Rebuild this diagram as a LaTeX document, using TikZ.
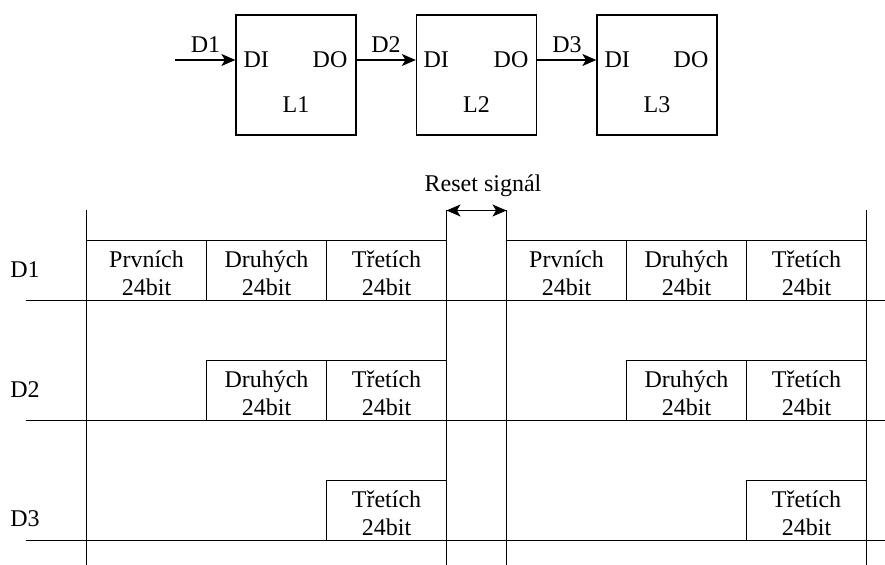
\documentclass[tikz,border=0pt]{standalone}
\usepackage{fontspec}
\setmainfont{Liberation Serif}
\newfontfamily\timesfont{Liberation Serif}
\usetikzlibrary{arrows.meta}
\begin{document}
\begin{tikzpicture}[x=0.5pt,y=-0.5pt,
  font=\timesfont\fontsize{12}{14}\selectfont,
  line width=0.65pt,
  head/.tip={Stealth[length=7pt,width=6pt,inset=1.8pt]},
  tip/.style={-head},
  bothtips/.style={head-head},
  block/.style={draw, minimum width=60pt, minimum height=60pt, inner sep=0pt},
  cell/.style={draw, minimum width=60pt, minimum height=30pt, inner sep=0pt},
  celltext/.style={align=center, inner sep=0pt},
  txt/.style={inner sep=0pt, anchor=base},
  txtw/.style={inner sep=0pt, anchor=base west},
  txte/.style={inner sep=0pt, anchor=base east},
]
\useasboundingbox (0,0) rectangle (885,565);

% --- register chain L1 -> L2 -> L3 ---
\node[block] (L1) at (296,75) {};
\node[block] (L2) at (476.5,75) {};
\node[block] (L3) at (657,75) {};

\node[txtw] (di1) at (243,68) {DI};
\node[txte] (do1) at (348,68) {DO};
\node[txt]  (n1)  at (296,113) {L1};
\node[txtw] (di2) at (423,68) {DI};
\node[txte] (do2) at (529,68) {DO};
\node[txt]  (n2)  at (476.5,113) {L2};
\node[txtw] (di3) at (604,68) {DI};
\node[txte] (do3) at (709,68) {DO};
\node[txt]  (n3)  at (657,113) {L3};

\coordinate (in) at (175,60);
\draw[tip] (in) -- (in -| L1.west);
\draw[tip] (in -| L1.east) -- (in -| L2.west);
\draw[tip] (in -| L2.east) -- (in -| L3.west);

\node[txt] (d1a) at (205.5,53) {D1};
\node[txt] (d2a) at (386,53) {D2};
\node[txt] (d3a) at (567,53) {D3};

% --- timing diagram ---
% frame boundaries
\coordinate (v1t) at (86.5,210.5);  \coordinate (v1b) at (86.5,565);
\coordinate (v2t) at (446.5,210.5); \coordinate (v2b) at (446.5,565);
\coordinate (v3t) at (506.5,210.5); \coordinate (v3b) at (506.5,565);
\coordinate (v4t) at (866.5,210.5); \coordinate (v4b) at (866.5,565);
\draw (v1t) -- (v1b);
\draw (v2t) -- (v2b);
\draw (v3t) -- (v3b);
\draw (v4t) -- (v4b);

\draw[bothtips] (v2t) -- (v3t);
\node[txt] (rst) at (483,192) {Reset signál};

% signal base lines
\coordinate (b1l) at (26,300.5); \coordinate (b1r) at (885,300.5);
\coordinate (b2l) at (26,420.5); \coordinate (b2r) at (885,420.5);
\coordinate (b3l) at (26,540.5); \coordinate (b3r) at (885,540.5);
\draw (b1l) -- (b1r);
\draw (b2l) -- (b2r);
\draw (b3l) -- (b3r);

\node[txt] (s1) at (25,278) {D1};
\node[txt] (s2) at (25,398) {D2};
\node[txt] (s3) at (25,527) {D3};

% D1 row
\node[cell] (a1) at (146.5,270.5) {};
\node[cell] (a2) at (266.5,270.5) {};
\node[cell] (a3) at (386.5,270.5) {};
\node[cell] (a4) at (566.5,270.5) {};
\node[cell] (a5) at (686.5,270.5) {};
\node[cell] (a6) at (806.5,270.5) {};
\node[celltext] (ta1) at ([yshift=-1.3pt]a1.center) {Prvních\\24bit};
\node[celltext] (ta2) at ([yshift=-1.3pt]a2.center) {Druhých\\24bit};
\node[celltext] (ta3) at ([yshift=-1.3pt]a3.center) {Třetích\\24bit};
\node[celltext] (ta4) at ([yshift=-1.3pt]a4.center) {Prvních\\24bit};
\node[celltext] (ta5) at ([yshift=-1.3pt]a5.center) {Druhých\\24bit};
\node[celltext] (ta6) at ([yshift=-1.3pt]a6.center) {Třetích\\24bit};

% D2 row
\node[cell] (b2) at (266.5,390.5) {};
\node[cell] (b3) at (386.5,390.5) {};
\node[cell] (b5) at (686.5,390.5) {};
\node[cell] (b6) at (806.5,390.5) {};
\node[celltext] (tb2) at ([yshift=-1.3pt]b2.center) {Druhých\\24bit};
\node[celltext] (tb3) at ([yshift=-1.3pt]b3.center) {Třetích\\24bit};
\node[celltext] (tb5) at ([yshift=-1.3pt]b5.center) {Druhých\\24bit};
\node[celltext] (tb6) at ([yshift=-1.3pt]b6.center) {Třetích\\24bit};

% D3 row
\node[cell] (c3) at (386.5,510.5) {};
\node[cell] (c6) at (806.5,510.5) {};
\node[celltext] (tc3) at ([yshift=-1.3pt]c3.center) {Třetích\\24bit};
\node[celltext] (tc6) at ([yshift=-1.3pt]c6.center) {Třetích\\24bit};
\end{tikzpicture}
\end{document}
